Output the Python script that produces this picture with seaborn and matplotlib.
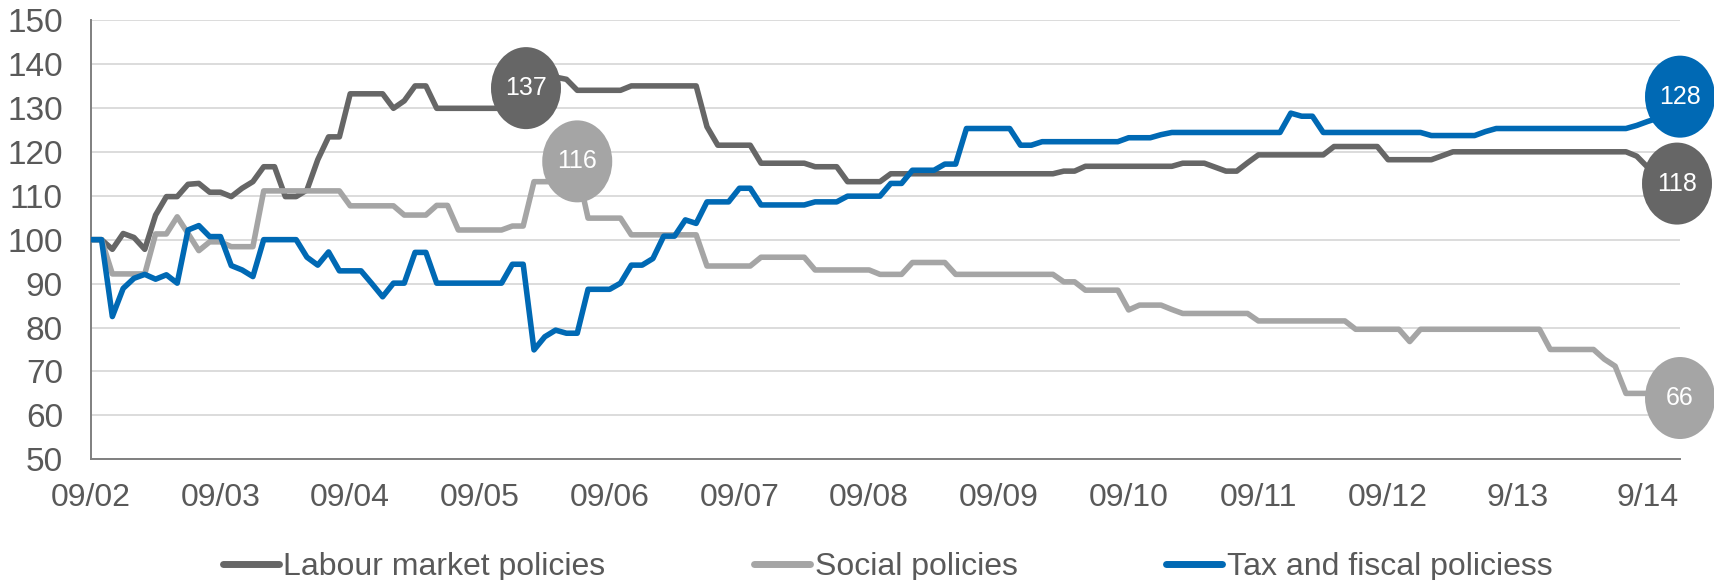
import numpy as np
import pandas as pd
import matplotlib
matplotlib.use("Agg")
import matplotlib.pyplot as plt
import seaborn as sns
from matplotlib.patches import Ellipse
from matplotlib.transforms import ScaledTranslation
from matplotlib.lines import Line2D

# Monthly index values, Sep 2002 (=100) to Dec 2014
labour = [
    100, 100, 97.8, 101.4, 100.5, 97.8, 105.6, 109.8, 109.8, 112.6,
    112.8, 110.8, 110.8, 109.8, 111.7, 113.2, 116.6, 116.6, 109.8, 109.8,
    111.3, 118.2, 123.4, 123.4, 133.2, 133.2, 133.2, 133.2, 129.9, 131.6,
    135.0, 135.0, 129.9, 129.9, 129.9, 129.9, 129.9, 129.9, 129.9, 129.9,
    133.5, 137, 137, 137, 136.5, 134.0, 134.0, 134.0, 134.0, 134.0,
    135.0, 135.0, 135.0, 135.0, 135.0, 135.0, 135.0, 125.7, 121.5, 121.5,
    121.5, 121.5, 117.4, 117.4, 117.4, 117.4, 117.4, 116.6, 116.6, 116.6,
    113.2, 113.2, 113.2, 113.2, 115.0, 115.0, 115.0, 115.0, 115.0, 115.0,
    115.0, 115.0, 115.0, 115.0, 115.0, 115.0, 115.0, 115.0, 115.0, 115.0,
    115.6, 115.6, 116.7, 116.7, 116.7, 116.7, 116.7, 116.7, 116.7, 116.7,
    116.7, 117.4, 117.4, 117.4, 116.5, 115.6, 115.6, 117.5, 119.3, 119.3,
    119.3, 119.3, 119.3, 119.3, 119.3, 121.2, 121.2, 121.2, 121.2, 121.2,
    118.2, 118.2, 118.2, 118.2, 118.2, 119.1, 120.0, 120.0, 120.0, 120.0,
    120.0, 120.0, 120.0, 120.0, 120.0, 120.0, 120.0, 120.0, 120.0, 120.0,
    120.0, 120.0, 120.0, 119.0, 116.5, 117.5, 118, 118,
]

social = [
    100, 100, 92.2, 92.2, 92.2, 92.2, 101.3, 101.3, 105.2, 101.4,
    97.5, 99.5, 99.5, 98.4, 98.4, 98.4, 111.1, 111.1, 111.1, 111.1,
    111.1, 111.1, 111.1, 111.1, 107.7, 107.7, 107.7, 107.7, 107.7, 105.6,
    105.6, 105.6, 107.8, 107.8, 102.2, 102.2, 102.2, 102.2, 102.2, 103.1,
    103.1, 113.2, 113.2, 113.2, 116, 116, 104.9, 104.9, 104.9, 104.9,
    101.1, 101.1, 101.1, 101.1, 101.1, 101.1, 101.1, 94.0, 94.0, 94.0,
    94.0, 94.0, 96.0, 96.0, 96.0, 96.0, 96.0, 93.1, 93.1, 93.1,
    93.1, 93.1, 93.1, 92.1, 92.1, 92.1, 94.8, 94.8, 94.8, 94.8,
    92.1, 92.1, 92.1, 92.1, 92.1, 92.1, 92.1, 92.1, 92.1, 92.1,
    90.4, 90.4, 88.5, 88.5, 88.5, 88.5, 84.0, 85.1, 85.1, 85.1,
    84.1, 83.2, 83.2, 83.2, 83.2, 83.2, 83.2, 83.2, 81.5, 81.5,
    81.5, 81.5, 81.5, 81.5, 81.5, 81.5, 81.5, 79.6, 79.6, 79.6,
    79.6, 79.6, 76.8, 79.6, 79.6, 79.6, 79.6, 79.6, 79.6, 79.6,
    79.6, 79.6, 79.6, 79.6, 79.6, 75.0, 75.0, 75.0, 75.0, 75.0,
    72.8, 71.2, 65, 65, 65, 66, 66, 66,
]

tax = [
    100, 100, 82.5, 88.9, 91.2, 92.1, 91.0, 92.0, 90.1, 102.2,
    103.2, 100.7, 100.7, 94.1, 93.1, 91.6, 100.0, 100.0, 100.0, 100.0,
    96.0, 94.2, 97.2, 92.9, 92.9, 92.9, 90.0, 87.0, 90.1, 90.1,
    97.1, 97.1, 90.1, 90.1, 90.1, 90.1, 90.1, 90.1, 90.1, 94.4,
    94.4, 74.9, 77.9, 79.4, 78.7, 78.7, 88.7, 88.7, 88.7, 90.1,
    94.2, 94.2, 95.7, 100.8, 100.8, 104.5, 103.7, 108.6, 108.6, 108.6,
    111.7, 111.7, 107.9, 107.9, 107.9, 107.9, 107.9, 108.6, 108.6, 108.6,
    109.9, 109.9, 109.9, 109.9, 112.8, 112.8, 115.8, 115.8, 115.8, 117.2,
    117.2, 125.3, 125.3, 125.3, 125.3, 125.3, 121.5, 121.5, 122.3, 122.3,
    122.3, 122.3, 122.3, 122.3, 122.3, 122.3, 123.2, 123.2, 123.2, 123.9,
    124.4, 124.4, 124.4, 124.4, 124.4, 124.4, 124.4, 124.4, 124.4, 124.4,
    124.4, 128.8, 128.1, 128.1, 124.4, 124.4, 124.4, 124.4, 124.4, 124.4,
    124.4, 124.4, 124.4, 124.4, 123.7, 123.7, 123.7, 123.7, 123.7, 124.6,
    125.3, 125.3, 125.3, 125.3, 125.3, 125.3, 125.3, 125.3, 125.3, 125.3,
    125.3, 125.3, 125.3, 126.0, 126.9, 127.7, 128, 128,
]

series_names = ["Labour market policies", "Social policies", "Tax and fiscal policiess"]
series_colors = ["#666666", "#a5a5a5", "#0069b4"]
tick_labels = ["09/02", "09/03", "09/04", "09/05", "09/06", "09/07", "09/08",
               "09/09", "09/10", "09/11", "09/12", "9/13", "9/14"]

# Highlighted values: (series, month index, label, bubble offset in px)
callouts = [
    (0, 41, "137", (-8, -11)),
    (1, 45, "116", (0, 8)),
    (2, 147, "128", (0, 20)),
    (0, 147, "118", (-3, -23)),
    (1, 147, "66", (0, -9)),
]

sns.set_theme(style="white")
plt.rcParams["font.family"] = ["Liberation Sans", "DejaVu Sans"]

n = len(labour)
month = np.arange(n)
df = pd.DataFrame({
    "month": np.tile(month, 3),
    "value": np.concatenate([labour, social, tax]),
    "series": np.repeat(series_names, n),
})

DPI = 100
fig = plt.figure(figsize=(17.15, 5.80), dpi=DPI)
ax = fig.add_axes([0.0529, 0.2081, 0.9267, 0.7574])

sns.lineplot(data=df, x="month", y="value", hue="series",
             palette=dict(zip(series_names, series_colors)),
             hue_order=series_names, linewidth=4.0, legend=False, ax=ax,
             zorder=3)
for ln in ax.lines:
    ln.set_solid_joinstyle("round")
    ln.set_solid_capstyle("butt")

ax.set_xlim(0, n - 1)
ax.set_ylim(50, 150)
ax.set_yticks(np.arange(50, 151, 10))
ax.set_xticks(np.arange(0, 12 * len(tick_labels), 12))
ax.set_xticklabels(tick_labels)
ax.set_xlabel("")
ax.set_ylabel("")

ax.grid(axis="y", color="#d9d9d9", linewidth=1.3, zorder=0)
ax.grid(axis="x", visible=False)
for side in ["top", "right"]:
    ax.spines[side].set_visible(False)
for side in ["left", "bottom"]:
    ax.spines[side].set_color("#7f7f7f")
    ax.spines[side].set_linewidth(1.4)
    ax.spines[side].set_zorder(2)

ax.tick_params(axis="both", length=0, colors="#595959")
ax.tick_params(axis="y", pad=20, labelsize=24)
ax.tick_params(axis="x", pad=17, labelsize=23)

# Value bubbles
data_by_series = [labour, social, tax]
for s, idx, text, (dx, dy) in callouts:
    yv = data_by_series[s][idx]
    trans = fig.dpi_scale_trans + ScaledTranslation(idx, yv, ax.transData)
    cx, cy = dx / DPI, dy / DPI
    ax.add_patch(Ellipse((cx, cy), 0.70, 0.82, transform=trans,
                         facecolor=series_colors[s], edgecolor="none",
                         zorder=5, clip_on=False))
    ax.text(cx, cy, text, transform=trans, ha="center", va="center",
            color="white", fontsize=18, zorder=6, clip_on=False)

handles = [Line2D([0], [0], color=c, linewidth=5) for c in series_colors]
fig.legend(handles, series_names, loc="center", ncol=3,
           bbox_to_anchor=(0.5175, 0.022), frameon=False, fontsize=23,
           labelcolor="#595959", handlelength=1.75, handletextpad=0.15,
           columnspacing=4.65, borderaxespad=0, borderpad=0)

fig.savefig("out.png", dpi=DPI)
